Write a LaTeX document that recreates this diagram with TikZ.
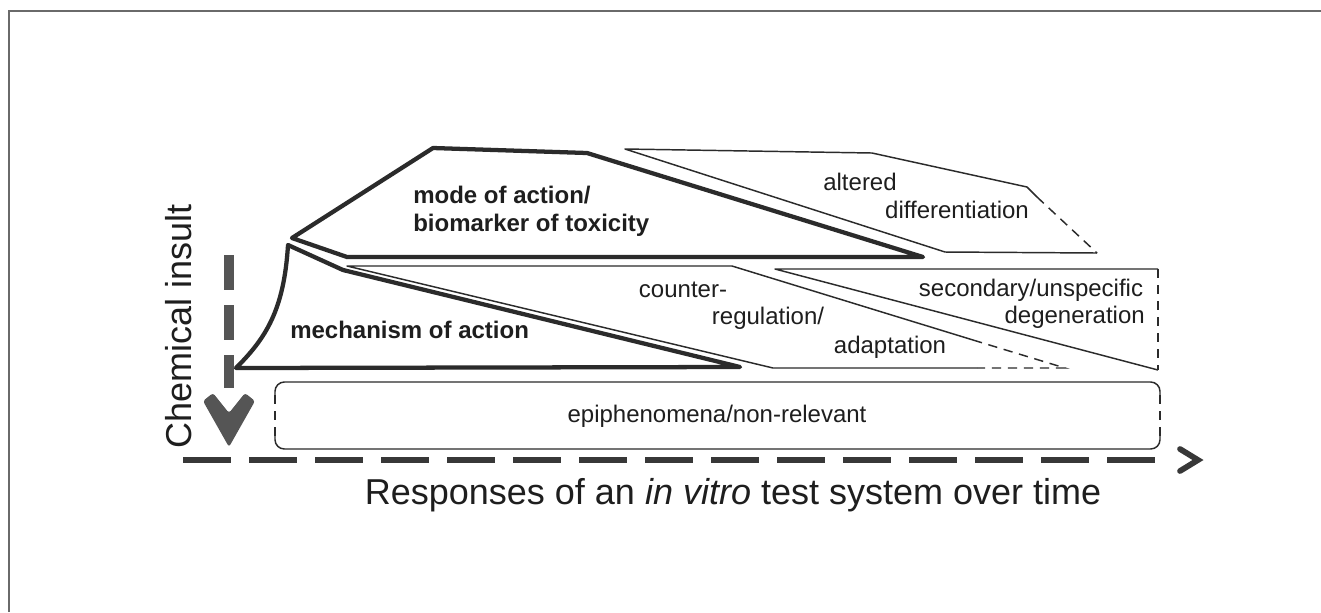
\documentclass[tikz,border=0pt]{standalone}
\usepackage{fontspec}
\setmainfont{Liberation Sans}
\definecolor{linegray}{HTML}{2B2B2B}
\definecolor{txt}{HTML}{1E1E1E}
\definecolor{framegray}{HTML}{6A6A6A}
\definecolor{axisgray}{HTML}{383838}
\definecolor{vgray}{HTML}{555555}
\begin{document}
\begin{tikzpicture}[x=0.75pt,y=-0.75pt,
  thickline/.style={draw=linegray, line width=3.2pt, line join=round},
  thinline/.style={draw=linegray, line width=1.1pt, line join=round},
  thindash/.style={draw=linegray, line width=1.1pt, dash pattern=on 7pt off 5pt},
  lbl/.style={font=\fontsize{18}{21}\selectfont, text=txt, inner sep=0pt},
  blbl/.style={font=\fontsize{18}{21}\selectfont\bfseries, text=txt, inner sep=0pt, align=left},
  big/.style={font=\fontsize{27}{32}\selectfont, text=txt, inner sep=0pt},
  axisline/.style={draw=axisgray, line width=4.2pt},
  vline/.style={draw=vgray, line width=7.5pt}]
\useasboundingbox (0,0) rectangle (1321,612);
\fill[white] (0,0) rectangle (1321,612);
\draw[framegray, line width=1.5pt] (9,612) -- (9,11) -- (1321,11);

% mode of action polygon
\draw[thickline] (292,238) -- (433,148) -- (587,153) -- (923,257) -- (347,257) -- cycle;
% mechanism of action polygon
\draw[thickline] (288,245) -- (343,270) -- (740,367) -- (236,368) .. controls (266,338) and (284,310) .. cycle;

% altered differentiation polygon
\draw[thinline] (1037,197) -- (1027,187) -- (872,153) -- (625,149) -- (945,252) -- (1097,253);
\draw[thindash] (1037,197) -- (1097,253);

% counter-regulation polygon
\draw[thinline] (973,340) -- (732,266) -- (347,266) -- (773,368) -- (977,368);
\draw[thindash] (973,340) -- (1065,368) -- (977,368);

% secondary degeneration triangle
\draw[thinline] (1158,370) -- (775,269) -- (1158,269);
\draw[thindash] (1158,269) -- (1158,370);

% epiphenomena box
\draw[thinline, rounded corners=7pt] (275,395) -- (275,382) -- (1160,382) -- (1160,395);
\draw[thinline, rounded corners=7pt] (275,436) -- (275,449) -- (1160,449) -- (1160,436);
\draw[thindash] (275,395) -- (275,436);
\draw[thindash] (1160,395) -- (1160,436);

% axes
\coordinate (xs) at (183,460);
\coordinate (xe) at (1158,460);
\coordinate (xt) at (1198,460);
\draw[axisline, dash pattern=on 36pt off 13.5pt] (xs) -- (xe);
\draw[axisline, line width=4.3pt, line join=miter, line cap=round] (1180,449) -- (xt) -- (1180,471);

\coordinate (ys) at (229,255);
\coordinate (ye) at (229,388);
\coordinate (yt) at (229,447);
\draw[vline, dash pattern=on 26.25pt off 11.25pt] (ys) -- (ye);
\fill[vgray, rounded corners=2pt] (203,401) -- (213,393) -- (229,413) -- (245,393) -- (255,401) -- (yt) -- cycle;

% labels
\node[blbl, anchor=west] (mode) at (413,211) {mode of action/\\biomarker of toxicity};
\node[blbl, anchor=west] (mech) at (290,330) {mechanism of action};
\node[lbl] (alt1) at (860,182) {altered};
\node[lbl] (alt2) at (957,210) {differentiation};
\node[lbl] (cr1) at (683,290) {counter-};
\node[lbl] (cr2) at (768,318) {regulation/};
\node[lbl] (cr3) at (890,347) {adaptation};
\node[lbl] (sec1) at (1031,290) {secondary/unspecific};
\node[lbl, anchor=east] (sec2) at (1145,317) {degeneration};
\node[lbl] (epi) at (717,416) {epiphenomena/non-relevant};
\node[big, rotate=90] (chem) at (179,326) {Chemical insult};
\node[big] (resp) at (733,495) {Responses of an \textit{in vitro} test system over time};
\end{tikzpicture}
\end{document}
